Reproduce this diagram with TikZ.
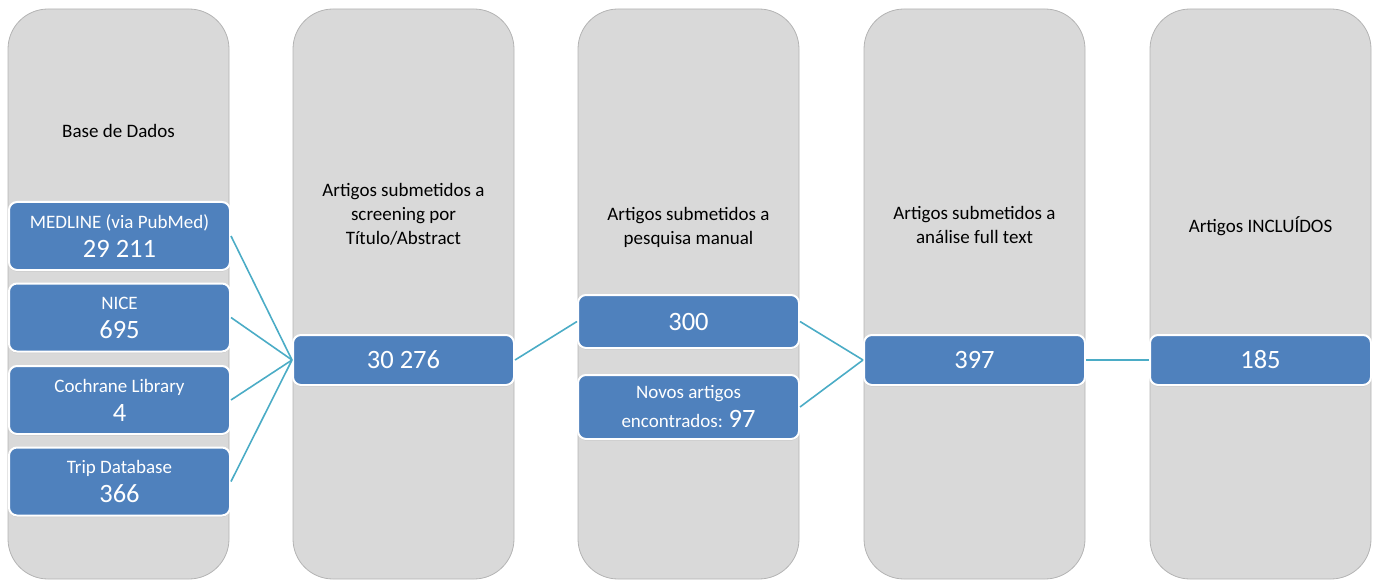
\documentclass[tikz,border=0pt]{standalone}
\usepackage{fontspec}
\setmainfont{Carlito}
\usepackage{tikz}
\usetikzlibrary{positioning,shadows}

\definecolor{fundocinza}{HTML}{D9D9D9}
\definecolor{bordacinza}{HTML}{B4B4B4}
\definecolor{caixaazul}{HTML}{4F81BD}
\definecolor{ligacaocor}{HTML}{4BACC6}

\newcommand{\rotulo}{\fontsize{19}{29}\selectfont}
\newcommand{\numero}{\fontsize{26.5}{29}\selectfont}

\tikzset{
	coluna/.style={draw=bordacinza, fill=fundocinza, rounded corners=40pt,
		minimum width=221pt, minimum height=570pt, line width=0.8pt, inner sep=0pt},
	caixa/.style={draw=white, fill=caixaazul, rounded corners=8pt, line width=2pt,
		text=white, minimum width=221pt, align=center, inner sep=0pt, font=\numero,
		drop shadow={shadow xshift=0pt, shadow yshift=-1.5pt, opacity=0.25}},
	titulo/.style={align=center, font=\fontsize{19}{24}\selectfont},
	ligacao/.style={draw=ligacaocor, line width=1.6pt},
}

\begin{document}
\begin{tikzpicture}[x=1pt, y=-1pt]
	\useasboundingbox (0,0) rectangle (1378,580);

	% Gray columns
	\node[coluna] (col1) at (118.5,294) {};
	\node[coluna] (col2) at (403.5,294) {};
	\node[coluna] (col3) at (688.5,294) {};
	\node[coluna] (col4) at (974.5,294) {};
	\node[coluna] (col5) at (1260.5,294) {};

	% Column titles
	\node[titulo] (tit1) at (118.5,131) {Base de Dados};
	\node[titulo] (tit2) at (403.5,214) {Artigos submetidos a\\screening por\\Título/Abstract};
	\node[titulo] (tit3) at (688.5,227) {Artigos submetidos a\\pesquisa manual};
	\node[titulo] (tit4) at (974.5,225) {Artigos submetidos a\\análise full text};
	\node[titulo] (tit5) at (1260.5,226) {Artigos INCLUÍDOS};

	% Databases
	\node[caixa, minimum height=68pt] (medline) at (119.5,236) {{\rotulo MEDLINE (via PubMed)}\\29 211};
	\node[caixa, minimum height=68pt] (nice) at (119.5,317.5) {{\rotulo NICE}\\695};
	\node[caixa, minimum height=68pt] (cochrane) at (119.5,400) {{\rotulo Cochrane Library}\\4};
	\node[caixa, minimum height=68pt] (trip) at (119.5,481.5) {{\rotulo Trip Database}\\366};

	% Screening
	\node[caixa, minimum height=50pt] (triagem) at (403.5,360) {30 276};

	% Manual search
	\node[caixa, minimum height=53pt] (manual) at (688.5,321.5) {300};
	\node[caixa, minimum height=64pt] (novos) at (688.5,407) {{\rotulo Novos artigos}\\{\rotulo encontrados: }97};

	% Full text and included
	\node[caixa, minimum height=50pt] (fulltext) at (974.5,360) {397};
	\node[caixa, minimum height=50pt] (incluidos) at (1260.5,360) {185};

	% Connectors
	\draw[ligacao] (medline.east) -- (triagem.west);
	\draw[ligacao] (nice.east) -- (triagem.west);
	\draw[ligacao] (cochrane.east) -- (triagem.west);
	\draw[ligacao] (trip.east) -- (triagem.west);
	\draw[ligacao] (triagem.east) -- (manual.west);
	\draw[ligacao] (manual.east) -- (fulltext.west);
	\draw[ligacao] (novos.east) -- (fulltext.west);
	\draw[ligacao] (fulltext.east) -- (incluidos.west);
\end{tikzpicture}
\end{document}
